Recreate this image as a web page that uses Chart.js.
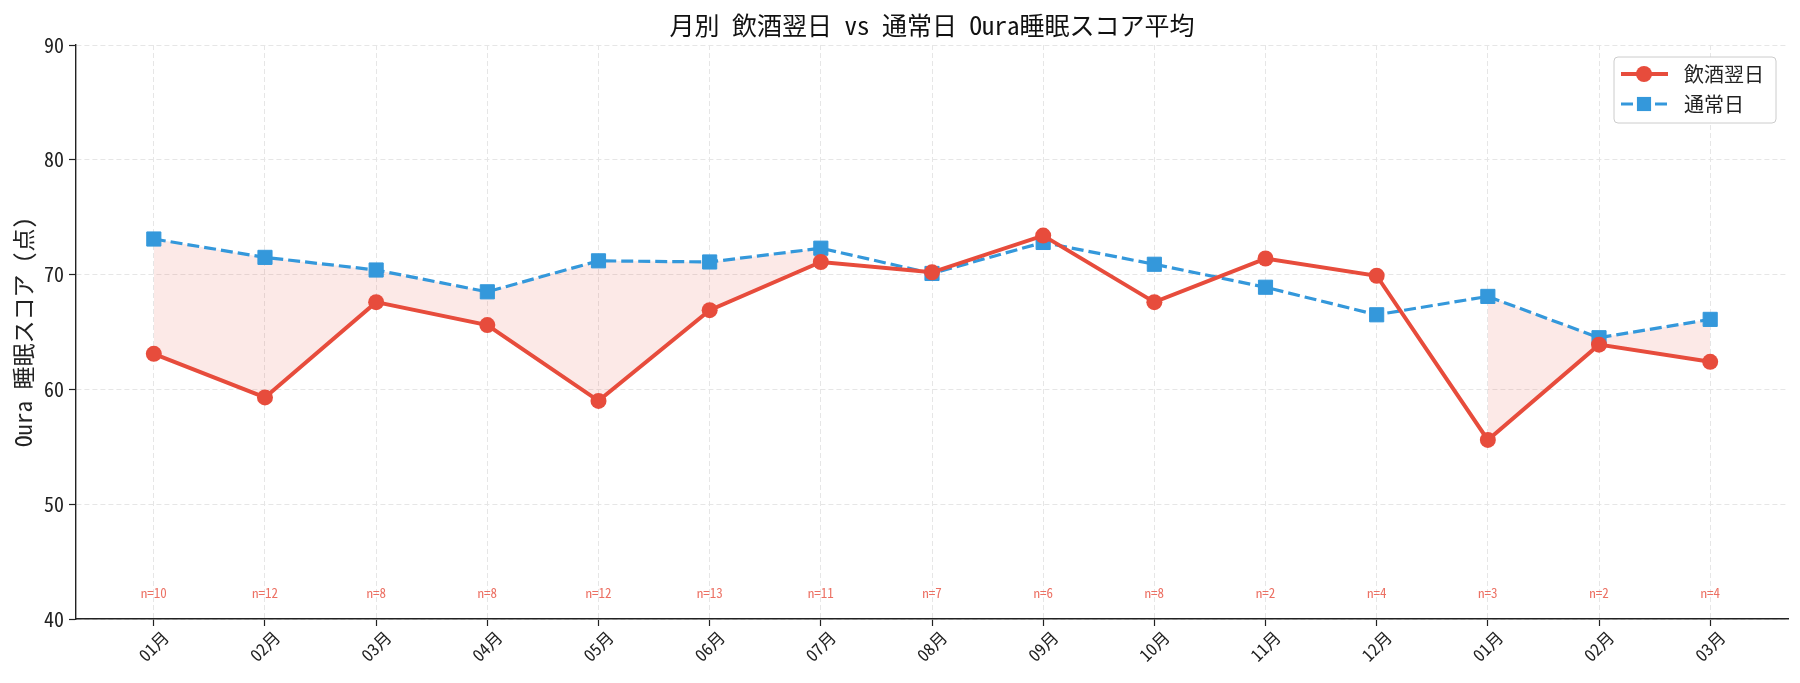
<!DOCTYPE html>
<html lang="ja">
<head>
  <meta charset="UTF-8">
  <title>月別 飲酒翌日 vs 通常日 Oura睡眠スコア平均</title>
  <style>
    html, body { margin: 0; padding: 0; background: #ffffff; }
    .chart-container { position: relative; width: 1800px; height: 683px; }
  </style>
</head>
<body>
  <div class="chart-container">
    <canvas id="sleepChart"></canvas>
  </div>

  <script src="https://cdn.jsdelivr.net/npm/chart.js"></script>
  <script>
    const months = ['01月', '02月', '03月', '04月', '05月', '06月', '07月', '08月', '09月', '10月', '11月', '12月', '01月', '02月', '03月'];
    const drinkScores = [63.1, 59.3, 67.6, 65.6, 59.0, 66.9, 71.1, 70.2, 73.4, 67.6, 71.4, 69.9, 55.6, 63.9, 62.4];
    const normalScores = [73.1, 71.5, 70.4, 68.5, 71.2, 71.1, 72.3, 70.1, 72.8, 70.9, 68.9, 66.5, 68.1, 64.5, 66.1];
    const drinkCounts = [10, 12, 8, 8, 12, 13, 11, 7, 6, 8, 2, 4, 3, 2, 4];
    const yTicks = [40, 50, 60, 70, 80, 90];

    const FONT = "'Noto Sans Mono CJK JP', 'Noto Sans CJK JP', sans-serif";
    const RED = '#e74c3c';
    const BLUE = '#3498db';
    const GRID = '#e6e6e6';
    const INK = '#222222';

    Chart.defaults.font.family = FONT;
    Chart.defaults.color = INK;

    const toPoints = (arr) => arr.map((v, i) => ({ x: i, y: v }));

    // 飲酒翌日が通常日より低い月だけ塗る（matplotlib の where= と同じく連続区間のみ）
    const lowerMask = drinkScores.map((v, i) => v < normalScores[i]);
    const fillTop = normalScores.map((v, i) => (lowerMask[i] ? v : null));
    const fillBottom = drinkScores.map((v, i) => (lowerMask[i] ? v : null));

    const countLabels = {
      id: 'countLabels',
      afterDatasetsDraw(chart) {
        const { ctx, scales: { x, y } } = chart;
        ctx.save();
        ctx.font = `13px ${FONT}`;
        ctx.fillStyle = 'rgba(231, 76, 60, 0.8)';
        ctx.textAlign = 'center';
        ctx.textBaseline = 'middle';
        drinkCounts.forEach((n, i) => {
          ctx.fillText(`n=${n}`, x.getPixelForValue(i), y.getPixelForValue(42.3));
        });
        ctx.restore();
      }
    };

    const legendBox = {
      id: 'legendBox',
      afterDraw(chart) {
        const { ctx, chartArea } = chart;
        const w = 162, h = 66;
        const left = chartArea.right - 12 - w;
        const top = chartArea.top + 12;
        ctx.save();
        ctx.beginPath();
        ctx.roundRect(left, top, w, h, 4);
        ctx.fillStyle = 'rgba(255, 255, 255, 0.85)';
        ctx.fill();
        ctx.lineWidth = 1;
        ctx.strokeStyle = '#cccccc';
        ctx.stroke();

        [0, 1].forEach((idx, row) => {
          const ds = chart.data.datasets[idx];
          const cy = top + 17 + row * 30;
          ctx.beginPath();
          ctx.setLineDash(ds.borderDash || []);
          ctx.lineWidth = ds.borderWidth;
          ctx.strokeStyle = ds.borderColor;
          ctx.moveTo(left + 7, cy);
          ctx.lineTo(left + 54, cy);
          ctx.stroke();
          ctx.setLineDash([]);
          ctx.fillStyle = ds.borderColor;
          ctx.beginPath();
          if (ds.pointStyle === 'rect') {
            const s = ds.pointRadius * Math.SQRT1_2;
            ctx.rect(left + 30 - s, cy - s, 2 * s, 2 * s);
          } else {
            ctx.arc(left + 30, cy, ds.pointRadius, 0, Math.PI * 2);
          }
          ctx.fill();
          ctx.font = `20px ${FONT}`;
          ctx.fillStyle = INK;
          ctx.textAlign = 'left';
          ctx.textBaseline = 'middle';
          ctx.fillText(ds.label, left + 70, cy);
        });
        ctx.restore();
      }
    };

    const config = {
      type: 'line',
      data: {
        datasets: [
          {
            label: '飲酒翌日',
            data: toPoints(drinkScores),
            borderColor: RED,
            backgroundColor: RED,
            borderWidth: 4,
            pointStyle: 'circle',
            pointRadius: 8,
            pointBorderWidth: 0,
            pointBackgroundColor: RED,
            fill: false,
            tension: 0
          },
          {
            label: '通常日',
            data: toPoints(normalScores),
            borderColor: BLUE,
            backgroundColor: BLUE,
            borderWidth: 3.2,
            borderDash: [12, 5],
            pointStyle: 'rect',
            pointRadius: 10,
            pointBorderWidth: 1,
            pointBorderColor: BLUE,
            pointBackgroundColor: BLUE,
            fill: false,
            tension: 0
          },
          {
            label: 'fillTop',
            data: toPoints(fillTop),
            borderWidth: 0,
            borderColor: 'transparent',
            pointRadius: 0,
            spanGaps: false,
            fill: false
          },
          {
            label: 'fillBottom',
            data: toPoints(fillBottom),
            borderWidth: 0,
            borderColor: 'transparent',
            backgroundColor: 'rgba(231, 76, 60, 0.12)',
            pointRadius: 0,
            spanGaps: false,
            fill: { target: 2 }
          }
        ]
      },
      options: {
        responsive: true,
        maintainAspectRatio: false,
        animation: false,
        events: [],
        layout: { padding: { top: 0, right: 12, bottom: 0, left: 0 } },
        scales: {
          x: {
            type: 'linear',
            min: -0.7,
            max: 14.7,
            afterBuildTicks: (axis) => { axis.ticks = months.map((m, i) => ({ value: i })); },
            afterFit: (axis) => { axis.height = 64; },
            ticks: {
              callback: (value) => months[value] ?? '',
              autoSkip: false,
              minRotation: 45,
              maxRotation: 45,
              labelOffset: 12,
              padding: 1,
              color: INK,
              font: { size: 17 }
            },
            grid: {
              color: GRID,
              lineWidth: 1,
              drawTicks: true,
              tickLength: 7,
              tickColor: INK,
              tickWidth: 1.2
            },
            border: { display: true, color: INK, width: 1.4, dash: [5, 3] }
          },
          y: {
            type: 'linear',
            min: 40,
            max: 90,
            afterBuildTicks: (axis) => { axis.ticks = yTicks.map(v => ({ value: v })); },
            afterFit: (axis) => { axis.width = 76; },
            ticks: {
              padding: 5,
              color: INK,
              font: { size: 20 }
            },
            grid: {
              color: GRID,
              lineWidth: 1,
              drawTicks: true,
              tickLength: 7,
              tickColor: INK,
              tickWidth: 1.2
            },
            border: { display: true, color: INK, width: 1.4, dash: [5, 3] },
            title: {
              display: true,
              text: 'Oura 睡眠スコア (点)',
              color: INK,
              font: { size: 23 },
              padding: { top: 9, bottom: 0 }
            }
          }
        },
        plugins: {
          legend: { display: false },
          tooltip: { enabled: false },
          filler: { propagate: false },
          title: {
            display: true,
            fullSize: false,
            text: '月別 飲酒翌日 vs 通常日 Oura睡眠スコア平均',
            color: '#111111',
            font: { size: 25, weight: 'normal', lineHeight: 1.2 },
            padding: { top: 10, bottom: 5 }
          }
        }
      },
      plugins: [countLabels, legendBox]
    };

    const ctx = document.getElementById('sleepChart').getContext('2d');
    const sleepChart = new Chart(ctx, config);
  </script>
</body>
</html>
